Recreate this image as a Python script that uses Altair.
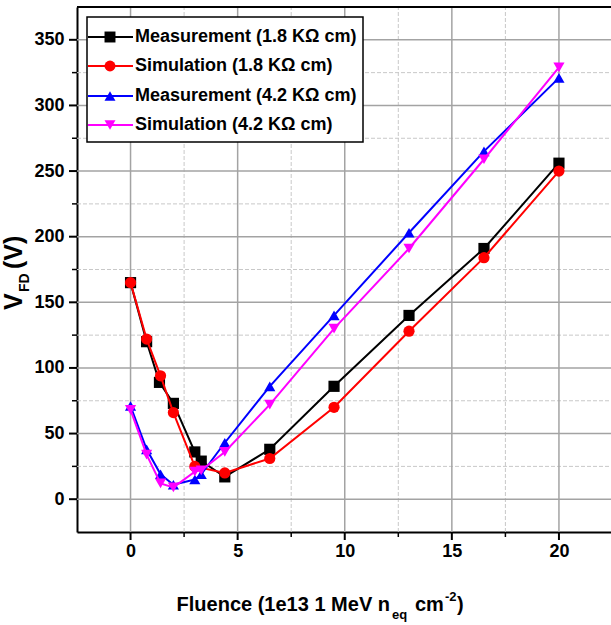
import altair as alt
import pandas as pd

# ---- data ----
fluence_meas18 = [0, 0.75, 1.35, 2.0, 3.0, 3.3, 4.4, 6.5, 9.5, 13.0, 16.5, 20.0]
vfd_meas18 = [165, 120, 89, 73, 36, 29, 17, 38, 86, 140, 191, 256]

fluence_sim18 = [0, 0.75, 1.4, 2.0, 3.0, 4.4, 6.5, 9.5, 13.0, 16.5, 20.0]
vfd_sim18 = [165, 122, 94, 66, 25, 20, 31, 70, 128, 184, 250]

fluence_meas42 = [0, 0.75, 1.4, 2.0, 3.0, 3.3, 4.4, 6.5, 9.5, 13.0, 16.5, 20.0]
vfd_meas42 = [71, 38, 19, 11, 15, 19, 43, 86, 140, 203, 265, 321]

fluence_sim42 = [0, 0.75, 1.4, 2.0, 3.0, 3.3, 4.4, 6.5, 9.5, 13.0, 16.5, 20.0]
vfd_sim42 = [68, 34, 12, 9, 21, 22, 36, 72, 130, 191, 259, 329]

series_names = ["Measurement (1.8 K\u03a9 cm)", "Simulation (1.8 K\u03a9 cm)",
                "Measurement (4.2 K\u03a9 cm)", "Simulation (4.2 K\u03a9 cm)"]
series_colors = ["#000000", "#ff0000", "#0000ff", "#ff00ff"]
series_shapes = ["square", "circle", "triangle-up", "triangle-down"]

x_major = [0, 5, 10, 15, 20]
x_minor = [2.5, 7.5, 12.5, 17.5]
y_major = [0, 50, 100, 150, 200, 250, 300, 350]
y_minor = [25, 75, 125, 175, 225, 275, 325]
x_domain = [-2.5, 22.43]
y_domain = [-25, 375]

W, H = 534, 525
FONT = "Liberation Sans"

xs = alt.Scale(domain=x_domain, nice=False, zero=False)
ys = alt.Scale(domain=y_domain, nice=False, zero=False)

x_axis = alt.Axis(values=x_major, grid=False, ticks=False,
                  domainColor="black", domainWidth=2, labelFont=FONT, labelFontWeight="bold",
                  labelFontSize=18, labelColor="black", labelPadding=10, title=None)
y_axis = alt.Axis(values=y_major, grid=False, ticks=False,
                  domainColor="black", domainWidth=2, labelFont=FONT, labelFontWeight="bold",
                  labelFontSize=18, labelColor="black", labelPadding=13, title=None)

GRID = "#a3a3a3"
MINOR = "#c8c8c8"


def grid_table(values, vertical):
    rows = []
    for v in values:
        if vertical:
            rows += [{"gx": v, "gy": y_domain[0], "id": v}, {"gx": v, "gy": y_domain[1], "id": v}]
        else:
            rows += [{"gx": x_domain[0], "gy": v, "id": v}, {"gx": x_domain[1], "gy": v, "id": v}]
    return pd.DataFrame(rows)


def grid_layer(values, vertical, color, width, dash=None, axis_x=None, axis_y=None):
    kw = dict(color=color, strokeWidth=width, interpolate="linear")
    if dash:
        kw["strokeDash"] = dash
    xenc = alt.X("gx:Q", scale=xs, axis=axis_x) if axis_x is not None else alt.X("gx:Q", scale=xs)
    yenc = alt.Y("gy:Q", scale=ys, axis=axis_y) if axis_y is not None else alt.Y("gy:Q", scale=ys)
    return alt.Chart(grid_table(values, vertical)).mark_line(**kw).encode(
        x=xenc, y=yenc, detail="id:N", order="gy:Q" if vertical else "gx:Q")


xmaj_tick = pd.DataFrame({"tx": x_major})
ymaj_tick = pd.DataFrame({"ty": y_major})
xmin_tick = pd.DataFrame({"sx": x_minor})
ymin_tick = pd.DataFrame({"sy": y_minor})

layers = [
    grid_layer(x_minor, True, MINOR, 1, [4, 2], axis_x=x_axis),
    grid_layer(y_minor, False, MINOR, 1, [4, 2], axis_y=y_axis),
    grid_layer(x_major, True, GRID, 1.5),
    grid_layer(y_major, False, GRID, 1.5),
    alt.Chart(xmaj_tick).mark_rule(color="black", strokeWidth=2).encode(
        x=alt.X("tx:Q", scale=xs), y=alt.value(H), y2=alt.value(H + 8)),
    alt.Chart(ymaj_tick).mark_rule(color="black", strokeWidth=2).encode(
        y=alt.Y("ty:Q", scale=ys), x=alt.value(-8), x2=alt.value(0)),
    alt.Chart(xmin_tick).mark_rule(color="black", strokeWidth=1.5).encode(
        x=alt.X("sx:Q", scale=xs), y=alt.value(H), y2=alt.value(H + 5)),
    alt.Chart(ymin_tick).mark_rule(color="black", strokeWidth=1.5).encode(
        y=alt.Y("sy:Q", scale=ys), x=alt.value(-5), x2=alt.value(0)),
]

all_x = [fluence_meas18, fluence_sim18, fluence_meas42, fluence_sim42]
all_y = [vfd_meas18, vfd_sim18, vfd_meas42, vfd_sim42]
for col, shp, fx, fy in zip(series_colors, series_shapes, all_x, all_y):
    df = pd.DataFrame({"fluence": fx, "vfd": fy})
    enc = dict(x=alt.X("fluence:Q", scale=xs), y=alt.Y("vfd:Q", scale=ys))
    layers.append(alt.Chart(df).mark_line(color=col, strokeWidth=2).encode(**enc))
    layers.append(alt.Chart(df).mark_point(shape=shp, filled=True, color=col, size=125, opacity=1).encode(**enc))

# top frame line
top_df = pd.DataFrame({"k": ["top"]})
layers.append(alt.Chart(top_df).mark_rule(color="black", strokeWidth=2).encode(
    x=alt.value(0), x2=alt.value(W), y=alt.value(0)))

# legend box
box_df = pd.DataFrame({"k": ["box"]})
layers.append(alt.Chart(box_df).mark_rect(fill="white", stroke="black", strokeWidth=1.5).encode(
    x=alt.value(10), x2=alt.value(286), y=alt.value(10), y2=alt.value(135)))

leg_y = [30, 59, 89, 118]
for i, (name, col, shp, yy) in enumerate(zip(series_names, series_colors, series_shapes, leg_y)):
    ldf = pd.DataFrame({"name": [name], "i": [i]})
    layers.append(alt.Chart(ldf).mark_rule(color=col, strokeWidth=2).encode(
        x=alt.value(11), x2=alt.value(56), y=alt.value(yy)))
    layers.append(alt.Chart(ldf).mark_point(shape=shp, filled=True, color=col, size=120, opacity=1).encode(
        x=alt.value(33), y=alt.value(yy)))
    layers.append(alt.Chart(ldf).mark_text(align="left", baseline="middle", font=FONT,
                                           fontWeight="bold", fontSize=18, color="black").encode(
        x=alt.value(58), y=alt.value(yy), text="name:N"))


def txt(s, x, y, size, align="left", angle=0):
    kw = dict(align=align, baseline="alphabetic", font=FONT, fontWeight="bold",
              fontSize=size, color="black")
    if angle:
        kw["angle"] = angle
    tdf = pd.DataFrame({"t": [s]})
    return alt.Chart(tdf).mark_text(**kw).encode(x=alt.value(x), y=alt.value(y), text="t:N")


layers += [
    txt("Fluence (1e13 1 MeV n", 313, 604, 20, align="right"),
    txt("eq", 315, 612, 13),
    txt("cm", 338, 604, 20),
    txt("-2", 368, 594, 13),
    txt(")", 380, 604, 20),
    txt("V", -55, 303, 25, angle=270),
    txt("FD", -48, 285, 14, angle=270),
    txt("(V)", -55, 262, 25, angle=270),
]

chart = alt.layer(*layers).properties(
    width=W, height=H,
    autosize=alt.AutoSizeParams(type="none"),
    padding={"left": 77, "top": 7, "right": 0, "bottom": 93},
    background="white",
).configure_view(strokeWidth=0)

chart.save("out.html", embed_options={"renderer": "svg", "actions": False})
